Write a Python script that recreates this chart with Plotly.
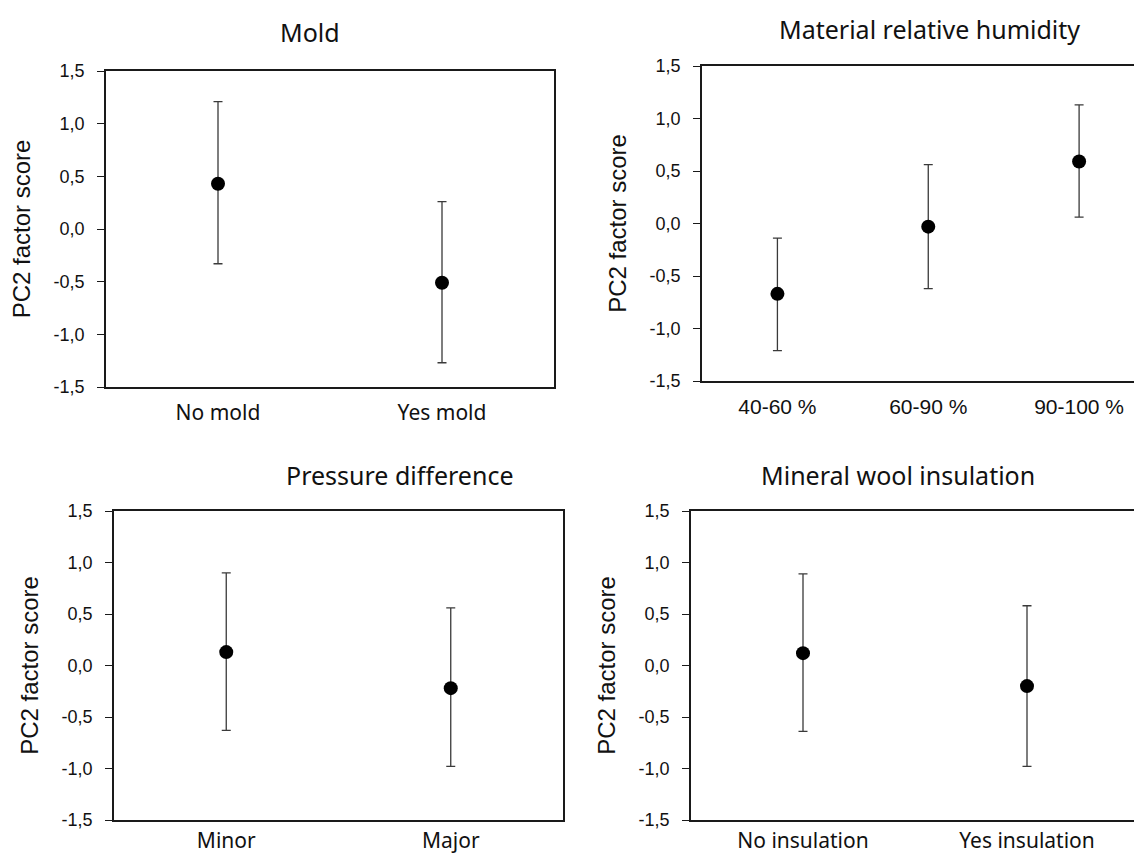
import plotly.graph_objects as go

W, H = 1142, 860

# ---- data ----
mold_cats = ["No mold", "Yes mold"]
mold_mean = [0.43, -0.51]
mold_upper = [1.21, 0.26]
mold_lower = [-0.33, -1.27]

hum_cats = ["40-60 %", "60-90 %", "90-100 %"]
hum_mean = [-0.67, -0.03, 0.59]
hum_upper = [-0.14, 0.56, 1.13]
hum_lower = [-1.21, -0.62, 0.06]

press_cats = ["Minor", "Major"]
press_mean = [0.13, -0.22]
press_upper = [0.90, 0.56]
press_lower = [-0.63, -0.98]

ins_cats = ["No insulation", "Yes insulation"]
ins_mean = [0.12, -0.20]
ins_upper = [0.89, 0.58]
ins_lower = [-0.64, -0.98]

titles = ["Mold", "Material relative humidity", "Pressure difference", "Mineral wool insulation"]
y_title = "PC2 factor score"
y_tick_vals = [-1.5, -1.0, -0.5, 0.0, 0.5, 1.0, 1.5]
y_tick_text = ["-1,5", "-1,0", "-0,5", "0,0", "0,5", "1,0", "1,5"]

# ---- layout helpers (pixel boxes) ----
def px_x(x):
    return x / W

def px_y(y):
    return 1 - y / H

panels = [
    dict(cats=mold_cats, mean=mold_mean, up=mold_upper, lo=mold_lower,
         box=(98, 546, 63, 379), xr=[-0.5, 1.5], mirror_y=True, catfont="Noto Sans",
         title_xy=(302, 24), standoff=6),
    dict(cats=hum_cats, mean=hum_mean, up=hum_upper, lo=hum_lower,
         box=(694, W, 58, 373), xr=[-0.5, 2.47], mirror_y=False, catfont="Liberation Sans, Arial",
         title_xy=(921, 21), standoff=6),
    dict(cats=press_cats, mean=press_mean, up=press_upper, lo=press_lower,
         box=(106, 555, 503, 812), xr=[-0.5, 1.5], mirror_y=True, catfont="Noto Sans",
         title_xy=(392, 467), standoff=1),
    dict(cats=ins_cats, mean=ins_mean, up=ins_upper, lo=ins_lower,
         box=(683, 1131, 503, 812), xr=[-0.5, 1.5], mirror_y=True, catfont="Noto Sans",
         title_xy=(890, 467), standoff=1),
]

fig = go.Figure()
annotations = []
LINE = "#1a1a1a"

for i, p in enumerate(panels):
    n = "" if i == 0 else str(i + 1)
    xa, ya = "x" + n, "y" + n
    plus = [u - m for u, m in zip(p["up"], p["mean"])]
    minus = [m - l for m, l in zip(p["mean"], p["lo"])]
    fig.add_trace(go.Scatter(
        x=p["cats"], y=p["mean"], mode="markers",
        marker=dict(color="black", size=14),
        error_y=dict(type="data", symmetric=False, array=plus, arrayminus=minus,
                     color="#3a3a3a", thickness=1.3, width=4.5),
        xaxis=xa, yaxis=ya, showlegend=False,
    ))
    x0, x1, y0, y1 = p["box"]
    fig.layout["xaxis" + n] = dict(
        domain=[px_x(x0), min(px_x(x1), 1.0)], anchor=ya, type="category",
        range=p["xr"], showline=True, linecolor=LINE, linewidth=1.6, mirror=True,
        showgrid=False, zeroline=False, ticks="", automargin=False,
        tickfont=dict(family=p["catfont"], size=21, color="#111"),
        ticklabelstandoff=p["standoff"],
    )
    fig.layout["yaxis" + n] = dict(
        domain=[px_y(y1), px_y(y0)], anchor=xa, range=[-1.5, 1.5],
        tickvals=y_tick_vals, ticktext=y_tick_text,
        showline=True, linecolor=LINE, linewidth=1.6, mirror=p["mirror_y"],
        showgrid=False, zeroline=False, ticks="outside", ticklen=7, tickcolor=LINE,
        tickwidth=1.3, automargin=False, ticklabelstandoff=9,
        tickfont=dict(family="Liberation Sans, Arial", size=18, color="#111"),
        title=dict(text=y_title, standoff=16,
                   font=dict(family="Liberation Sans, Arial", size=24, color="#111")),
    )
    tx, ty = p["title_xy"]
    annotations.append(dict(
        text=titles[i], x=px_x(tx), y=px_y(ty), xref="paper", yref="paper",
        xanchor="center", yanchor="middle", showarrow=False,
        font=dict(family="Noto Sans", size=25, color="#111"),
    ))

fig.update_layout(
    width=W, height=H, margin=dict(l=0, r=0, t=0, b=0),
    plot_bgcolor="white", paper_bgcolor="white",
    annotations=annotations,
)

fig.write_html("out.html")
